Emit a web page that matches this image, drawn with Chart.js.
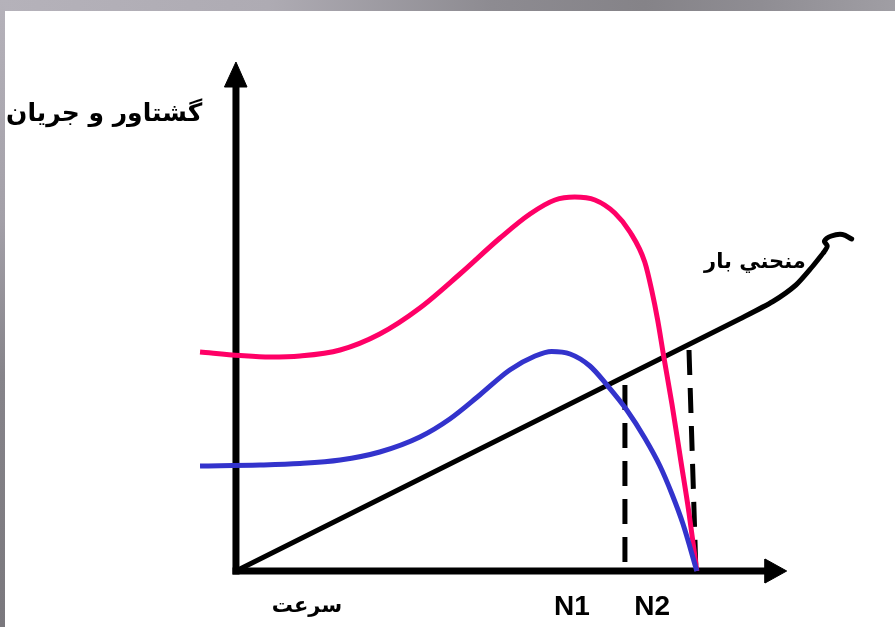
<!DOCTYPE html>
<html>
<head>
<meta charset="utf-8">
<script src="https://cdn.jsdelivr.net/npm/chart.js@4.4.1/dist/chart.umd.min.js"></script>
<style>
  html, body { margin: 0; padding: 0; width: 895px; height: 627px; overflow: hidden; background: #fff; }
  #bar-top { position: absolute; left: 0; top: 0; width: 895px; height: 11px;
    background: linear-gradient(to right, #b5b2ba 0%, #aeabb3 30%, #8d8b91 55%, #858388 72%, #8f8d93 85%, #a09ea4 100%); }
  #bar-left { position: absolute; left: 0; top: 0; width: 5px; height: 627px;
    background: linear-gradient(to bottom, #b5b2ba 0%, #a3a0a8 35%, #86848a 60%, #7a787d 100%); }
  #chart { position: absolute; left: 0; top: 0; }
</style>
</head>
<body>
<div id="bar-top"></div>
<div id="bar-left"></div>
<canvas id="chart" width="895" height="627"></canvas>
<script>
// Speed axis: 0 at standstill, 100 at synchronous speed (where both curves hit zero)
const torqueSpeed = [-7.8, 0.9, 7.4, 13.9, 22.6, 31.2, 39.9, 48.6, 57.3, 63.8, 69.2, 73.5, 77.9, 82.2, 85.5, 88.7, 90.2, 91.5, 92.8, 94.6, 96.5, 98.3, 100];
const torqueValues = [43.8, 43.1, 42.8, 43.0, 44.2, 47.4, 52.6, 59.4, 66.6, 71.4, 74.2, 74.8, 74.2, 71.6, 67.8, 61.8, 56.2, 50.2, 43.0, 33.4, 22.2, 11.6, 0];

const currentSpeed = [-7.8, 5.2, 13.9, 22.6, 31.2, 39.9, 46.4, 52.9, 59.4, 64.9, 68.5, 72.5, 76.8, 80.5, 84.8, 88.7, 92.0, 94.6, 97.0, 100];
const currentValues = [21.0, 21.2, 21.5, 22.2, 23.8, 26.8, 30.4, 35.2, 40.2, 43.0, 43.9, 43.4, 41.0, 37.2, 32.2, 26.6, 21.0, 15.4, 9.4, 0];

const loadSpeed = [0, 100.0, 109.3, 116.5, 121.5, 125.0, 127.6];
const loadValues = [0, 46.1, 50.4, 53.9, 57.2, 60.8, 63.8];
const hookSpeed = [127.6, 128.3, 127.7, 129.2, 131.6, 133.6];
const hookValues = [63.8, 65.0, 66.0, 67.0, 67.3, 66.4];

// operating points: [speed, top of dashed marker]
const n1 = [84.4, 37.2];
const n2 = [98.3, 44.2, 99.8];

const yAxisTitle = "گشتاور و جريان";
const xAxisTitle = "سرعت";
const loadTitle = "منحني بار";
const speedMarks = ["N1", "N2"];

const pts = (xs, ys) => xs.map((v, i) => ({ x: v, y: ys[i] }));

const line = (data, color, width, extra) => Object.assign({
  data: data,
  showLine: true,
  borderColor: color,
  backgroundColor: color,
  borderWidth: width,
  pointRadius: 0,
  borderCapStyle: "butt",
  borderJoinStyle: "round",
}, extra || {});

// draws the texts in data coordinates
const textPlugin = {
  id: "texts",
  afterDatasetsDraw(chart) {
    const { ctx, scales: { x, y } } = chart;
    const put = (txt, sx, sy, font, rtl) => {
      ctx.font = font;
      ctx.direction = rtl ? "rtl" : "ltr";
      ctx.fillText(txt, x.getPixelForValue(sx), y.getPixelForValue(sy));
    };
    ctx.save();
    ctx.fillStyle = "#000";
    ctx.textAlign = "center";
    ctx.textBaseline = "middle";
    put(yAxisTitle, -28.6, 91.4, "bold 25px 'DejaVu Sans'", true);
    put(loadTitle, 112.6, 61.6, "bold 21px 'DejaVu Sans'", true);
    put(xAxisTitle, 15.4, -7.2, "bold 21px 'DejaVu Sans'", true);
    put(speedMarks[0], n1[0] - 11.5, -7.3, "bold 28px 'Liberation Sans Narrow', 'Liberation Sans'", false);
    put(speedMarks[1], n2[0] - 8.0, -7.3, "bold 28px 'Liberation Sans Narrow', 'Liberation Sans'", false);
    ctx.restore();
  }
};

const chart = new Chart(document.getElementById("chart").getContext("2d"), {
  type: "scatter",
  data: {
    datasets: [
      line(pts(currentSpeed, currentValues), "#3333cc", 5, { cubicInterpolationMode: "monotone" }),
      line(pts(torqueSpeed, torqueValues), "#ff0066", 5, { cubicInterpolationMode: "monotone" }),
      line(pts(loadSpeed, loadValues), "#000", 5, { tension: 0.25 }),
      line(pts(hookSpeed, hookValues), "#000", 5, { tension: 0.4, borderCapStyle: "round" }),
      // N1 / N2 dashed markers
      line([{ x: n1[0], y: n1[1] }, { x: n1[0], y: 0 }], "#000", 5, { borderDash: [25, 13] }),
      line([{ x: n2[0], y: n2[1] }, { x: n2[2], y: 0 }], "#000", 5, { borderDash: [25, 13] }),
      // axes with arrow heads
      line([{ x: 0, y: -0.7 }, { x: 0, y: 97.2 }], "#000", 7),
      line([{ x: -0.75, y: 0 }, { x: 115.0, y: 0 }], "#000", 7),
      line([{ x: -2.5, y: 96.8 }, { x: 2.4, y: 96.8 }, { x: 0, y: 101.8 }, { x: -2.5, y: 96.8 }], "#000", 1, { fill: "shape" }),
      line([{ x: 114.8, y: 2.4 }, { x: 114.8, y: -2.4 }, { x: 119.5, y: 0 }, { x: 114.8, y: 2.4 }], "#000", 1, { fill: "shape" }),
    ],
  },
  options: {
    responsive: false,
    animation: false,
    devicePixelRatio: 1,
    layout: { padding: 0 },
    plugins: { legend: { display: false }, tooltip: { enabled: false } },
    scales: {
      x: { type: "linear", min: -51.2, max: 143.0, display: false },
      y: { type: "linear", min: -11.2, max: 114.2, display: false },
    },
  },
  plugins: [textPlugin],
});
</script>
</body>
</html>
